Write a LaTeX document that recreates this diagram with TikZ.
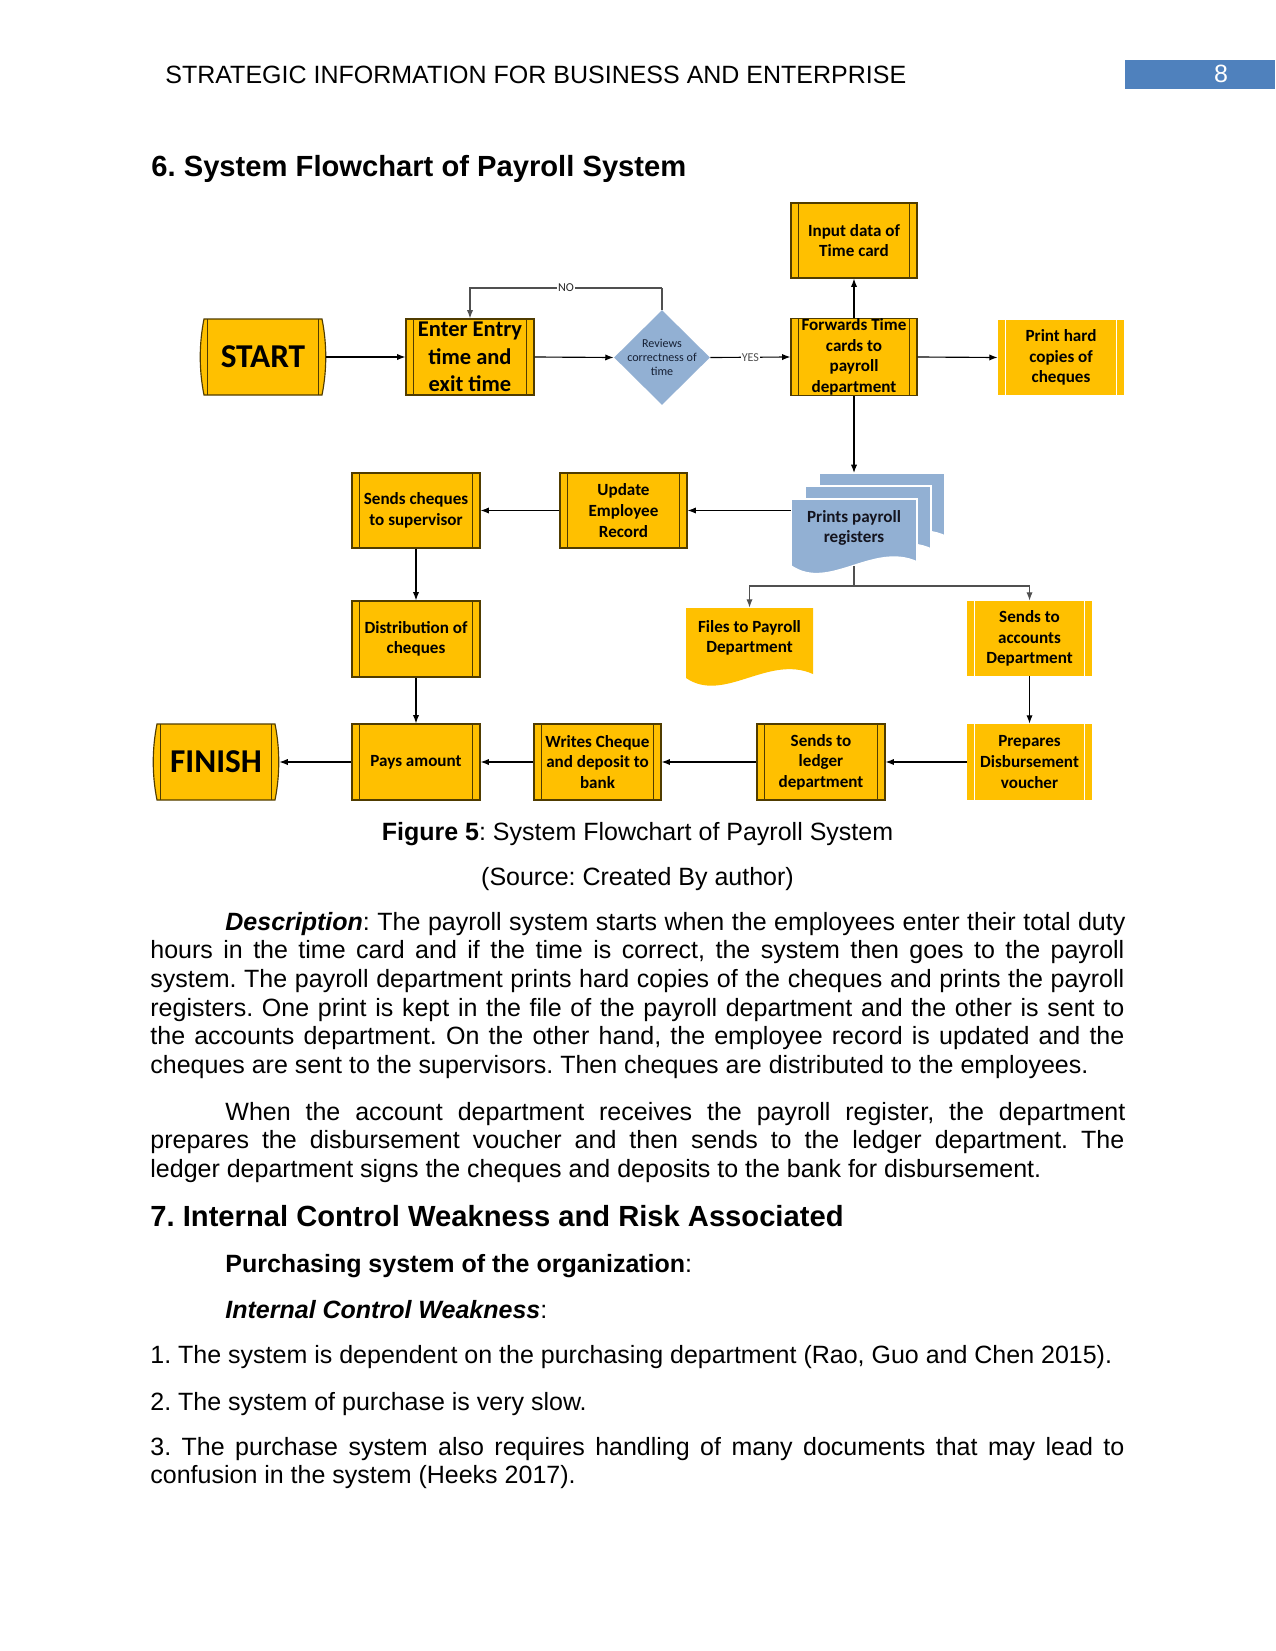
\documentclass[tikz,border=0pt]{standalone}
\usepackage{fontspec}
\setmainfont{Liberation Sans}
\newfontfamily\calib{Carlito}
\usetikzlibrary{arrows.meta,shapes.geometric}
\definecolor{gold}{RGB}{255,192,0}
\definecolor{edge}{RGB}{80,60,0}
\definecolor{pale}{RGB}{146,176,211}
\definecolor{hdrblue}{RGB}{79,129,189}
\definecolor{lngray}{RGB}{80,80,80}
\definecolor{navy}{RGB}{22,32,52}
\tikzset{
 sz/.style 2 args={minimum width=#1*0.48pt,minimum height=#2*0.48pt},
 boxfont/.style={font=\calib\bfseries\fontsize{8.2}{9.9}\selectfont},
 dlines/.style={path picture={\draw[#1,line width=0.55pt]
   ([xshift=3.7pt]path picture bounding box.north west) -- ([xshift=3.7pt]path picture bounding box.south west)
   ([xshift=-3.7pt]path picture bounding box.north east) -- ([xshift=-3.7pt]path picture bounding box.south east);}},
 proc/.style={rectangle, inner sep=0pt, align=center, fill=gold, draw=edge, line width=0.55pt, dlines=edge, boxfont},
 procw/.style={rectangle, inner sep=0pt, align=center, fill=gold, draw=none, dlines=white, boxfont},
 term/.style={rectangle, inner sep=0pt, draw=none, dlines=edge, font=\calib\bfseries\fontsize{16}{19}\selectfont},
 termshape/.style={fill=gold, draw=edge, line width=0.55pt},
 page/.style={fill=pale, draw=white, line width=0.8pt},
 docshape/.style={fill=gold, draw=none},
 plain/.style={inner sep=0pt, align=center, boxfont},
 arr/.style={draw=black, line width=0.55pt, -{Latex[length=4pt,width=3pt]}},
 garr/.style={arr, draw=lngray},
 gline/.style={draw=lngray, line width=0.55pt},
 lbl/.style={fill=white, inner sep=0.6pt, text=lngray, font=\calib\fontsize{5.8}{6.5}\selectfont},
 txt/.style={anchor=base west, inner sep=0pt, font=\fontsize{12}{13.8}\selectfont},
 ctxt/.style={anchor=base, inner sep=0pt, font=\fontsize{12}{13.8}\selectfont},
 hd/.style={anchor=base west, inner sep=0pt, font=\fontsize{14}{16}\selectfont\bfseries}
}
\begin{document}
\frenchspacing
\begin{tikzpicture}[x=0.48pt,y=-0.48pt]
\useasboundingbox (0,0) rectangle (1275,1651);
\fill[white] (0,0) rectangle (1275,1651);

% ---------- page header ----------
\node[txt] (hdr) at (165,84) {STRATEGIC INFORMATION FOR BUSINESS AND ENTERPRISE};
\node[fill=hdrblue, sz={150}{29}, inner sep=0pt] (pgbox) at (1200,74.5) {};
\node[anchor=base, inner sep=0pt, text=white, font=\fontsize{12}{13.8}\selectfont] (pgnum) at (1221,83) {8};
\node[hd] (h6) at (151,177) {6. System Flowchart of Payroll System};

% ---------- flowchart shapes ----------
\filldraw[termshape] (204,319) -- (322,319) .. controls (327,344) and (327,370) .. (322,395)
  -- (204,395) .. controls (199,370) and (199,344) .. (204,319) -- cycle;
\node[term, sz={126}{76}] (start) at (263,357) {START};
\filldraw[termshape] (157,724) -- (275,724) .. controls (280,749) and (280,775) .. (275,800)
  -- (157,800) .. controls (152,775) and (152,749) .. (157,724) -- cycle;
\node[term, sz={126}{76}] (finish) at (216,762) {FINISH};

\node[proc, sz={126}{75}] (input) at (854,240.5) {Input data of\\Time card};
\node[proc, sz={128}{76}, font=\calib\bfseries\fontsize{10.8}{13.1}\selectfont] (enter) at (470,357) {Enter Entry\\time and\\exit time};
\node[diamond, fill=pale, draw=none, inner sep=0pt, sz={96}{95}] (dia) at (662,357.5) {};
\node[inner sep=0pt, align=center, text=navy, font=\calib\fontsize{5.8}{6.7}\selectfont] (diat) at (dia) {Reviews\\correctness of\\time};
\node[proc, sz={126}{76}] (fwd) at (854,357) {Forwards Time\\cards to\\payroll\\department};
\node[procw, sz={126}{75}] (printhc) at (1061,357.5) {Print hard\\copies of\\cheques};

% multi-document: Prints payroll registers
\filldraw[page] (819,473) -- (945,473) -- (945,536) .. controls (901,516) and (857,566) .. (819,540) -- cycle;
\filldraw[page] (805,486) -- (931,486) -- (931,549) .. controls (887,529) and (843,579) .. (805,553) -- cycle;
\filldraw[page] (791,499) -- (917,499) -- (917,562) .. controls (873,542) and (829,592) .. (791,566) -- cycle;
\coordinate (prtop) at (854,473);
\node[plain, sz={126}{58}, text={rgb,255:red,20;green,20;blue,30}] (prints) at (854,528) {Prints payroll\\registers};

\node[proc, sz={128}{75}] (sendsup) at (416,510.5) {Sends cheques\\to supervisor};
\node[proc, sz={127}{75}] (update) at (623.5,510.5) {Update\\Employee\\Record};
\node[proc, sz={128}{76}] (distrib) at (416,639) {Distribution of\\cheques};

% document: Files to Payroll Department
\fill[docshape] (686,608) -- (813,608) -- (813,674) .. controls (768,654) and (724,704) .. (686,678) -- cycle;
\node[plain, sz={127}{60}] (files) at (749.5,638) {Files to Payroll\\Department};

\node[procw, sz={125}{75}] (acct) at (1029.5,638.5) {Sends to\\accounts\\Department};
\node[proc, sz={128}{76}] (pays) at (416,762) {Pays amount};
\node[proc, sz={127}{76}] (writes) at (597.5,762) {Writes Cheque\\and deposit to\\bank};
\node[proc, sz={128}{76}] (ledger) at (821,762) {Sends to\\ledger\\department};
\node[procw, sz={125}{76}] (prep) at (1029.5,762) {Prepares\\Disbursement\\voucher};

% ---------- connectors ----------
\draw[arr] (start.east) -- (enter.west);
\draw[arr] (enter.east) -- (dia.west);
\coordinate (notop) at (662,288);
\draw[gline] (dia.north) -- (notop);
\draw[garr] (notop) -| node[lbl, pos=0.25, text=black!85] (no) {NO} (enter.north);
\draw[arr] (dia.east) -- node[lbl, pos=0.5] (yes) {YES} (fwd.west);
\draw[arr] (fwd.north) -- (input.south);
\draw[arr] (fwd.east) -- (printhc.west);
\draw[arr] (fwd.south) -- (prtop);
\draw[arr] (prints.west |- update.east) -- (update.east);
\draw[arr] (update.west) -- (sendsup.east);
\draw[arr] (sendsup.south) -- (distrib.north);
\draw[arr] (distrib.south) -- (pays.north);
\coordinate (spl) at (854,586);
\draw[gline, shorten <=4.3pt] (prints.south) -- (spl);
\draw[garr] (spl) -| (files.north);
\draw[garr] (spl) -| (acct.north);
\draw[arr] (acct.south) -- (prep.north);
\draw[arr] (prep.west) -- (ledger.east);
\draw[arr] (ledger.west) -- (writes.east);
\draw[arr] (writes.west) -- (pays.east);
\draw[arr] (pays.west) -- (finish.east);

% ---------- caption and body text ----------
\node[ctxt] (cap1) at (637.5,840) {\textbf{Figure 5}: System Flowchart of Payroll System};
\node[ctxt] (cap2) at (637.5,885) {(Source: Created By author)};

\node[txt] (p1a) at (225,930) {\makebox[432pt][s]{\textbf{\textit{Description}}: The payroll system starts when the employees enter their total duty}};
\node[txt] (p1b) at (150,958.7) {\makebox[467.5pt][s]{hours in the time card and if the time is correct, the system then goes to the payroll}};
\node[txt] (p1c) at (150,987.4) {\makebox[467.5pt][s]{system. The payroll department prints hard copies of the cheques and prints the payroll}};
\node[txt] (p1d) at (150,1016) {\makebox[467.5pt][s]{registers. One print is kept in the file of the payroll department and the other is sent to}};
\node[txt] (p1e) at (150,1044.8) {\makebox[467.5pt][s]{the accounts department. On the other hand, the employee record is updated and the}};
\node[txt] (p1f) at (150,1073.5) {cheques are sent to the supervisors. Then cheques are distributed to the employees.};

\node[txt] (p2a) at (225,1120) {\makebox[432pt][s]{When the account department receives the payroll register, the department}};
\node[txt] (p2b) at (150,1148.5) {\makebox[467.5pt][s]{prepares the disbursement voucher and then sends to the ledger department. The}};
\node[txt] (p2c) at (150,1177) {ledger department signs the cheques and deposits to the bank for disbursement.};

\node[hd] (h7) at (150,1226) {7. Internal Control Weakness and Risk Associated};
\node[txt] (pur) at (225,1272) {\textbf{Purchasing system of the organization}:};
\node[txt] (icw) at (225,1318) {\textbf{\textit{Internal Control Weakness}}:};
\node[txt] (l1) at (150,1363) {1. The system is dependent on the purchasing department (Rao, Guo and Chen 2015).};
\node[txt] (l2) at (150,1410) {2. The system of purchase is very slow.};
\node[txt] (l3a) at (150,1455) {\makebox[467.5pt][s]{3. The purchase system also requires handling of many documents that may lead to}};
\node[txt] (l3b) at (150,1483) {confusion in the system (Heeks 2017).};
\end{tikzpicture}
\end{document}
